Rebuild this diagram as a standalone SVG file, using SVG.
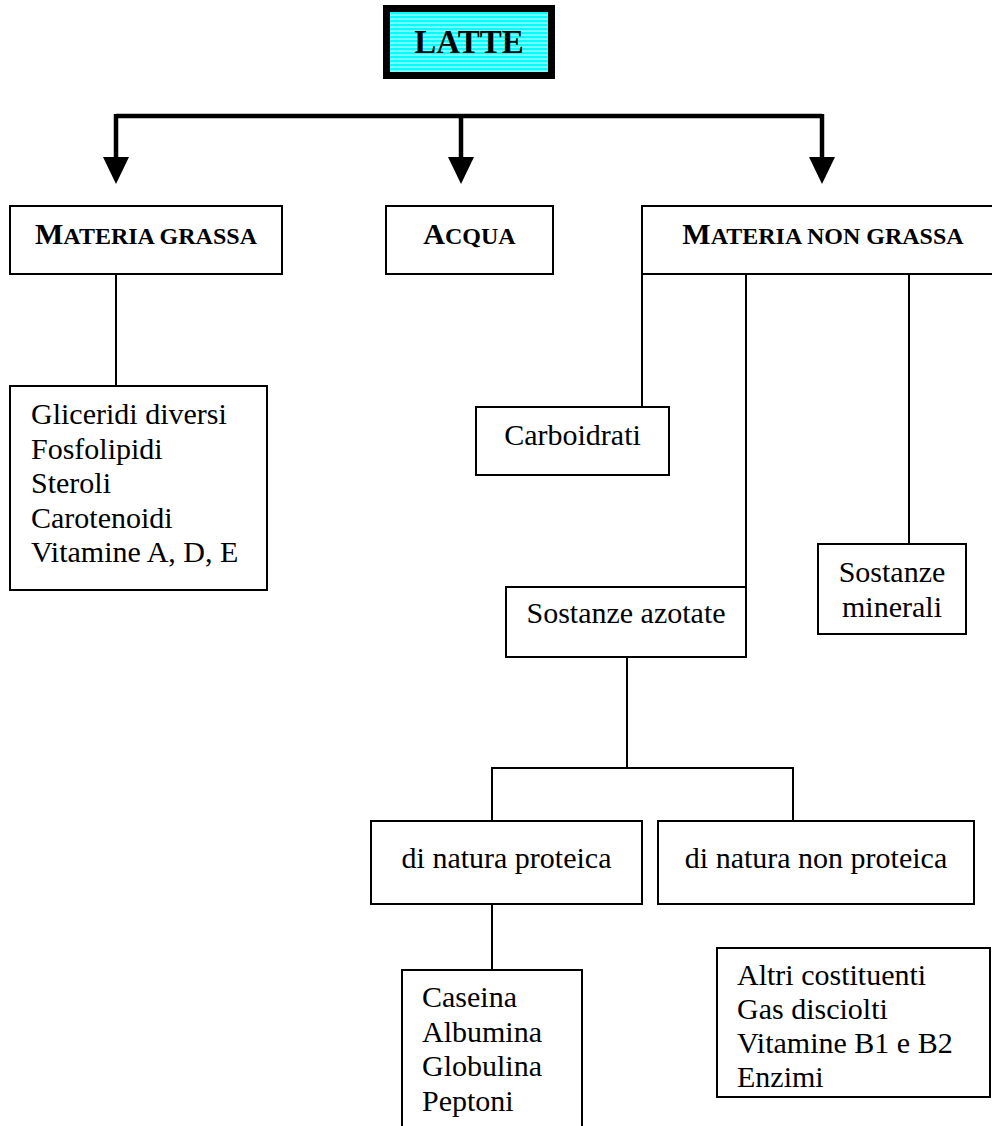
<svg xmlns="http://www.w3.org/2000/svg" width="992" height="1126" viewBox="0 0 992 1126">
  <style>
    .box { fill: #ffffff; stroke: #000000; stroke-width: 2; }
    .ln { fill: none; stroke: #000000; stroke-width: 2; }
    .thick { fill: none; stroke: #000000; stroke-width: 4.5; }
    .t { font-family: "Liberation Serif", "Times New Roman", serif; font-size: 30px; fill: #000000; }
    .h { font-family: "Liberation Serif", "Times New Roman", serif; font-weight: bold; fill: #000000; }
    .big { font-size: 30px; }
    .sc { font-size: 24px; }
    .mid { text-anchor: middle; }
  </style>
  <defs>
    <pattern id="stripes" patternUnits="userSpaceOnUse" x="0" y="12" width="10" height="4">
      <rect x="0" y="0" width="10" height="4" fill="#00ffff"/>
      <rect x="0" y="2.6" width="10" height="0.9" fill="#ffffff"/>
    </pattern>
    <marker id="head" markerUnits="userSpaceOnUse" markerWidth="28" markerHeight="27" refX="0" refY="13" orient="auto" viewBox="0 0 28 26">
      <path d="M0,0 L27,13 L0,26 z" fill="#000000"/>
    </marker>
  </defs>

  <g id="connectors">
    <path class="thick" d="M116,116 H822"/>
    <line class="thick" x1="116" y1="114" x2="116" y2="157" marker-end="url(#head)"/>
    <line class="thick" x1="461" y1="114" x2="461" y2="157" marker-end="url(#head)"/>
    <line class="thick" x1="822" y1="114" x2="822" y2="157" marker-end="url(#head)"/>
    <line class="ln" x1="116" y1="274" x2="116" y2="386"/>
    <line class="ln" x1="642" y1="274" x2="642" y2="407"/>
    <line class="ln" x1="746" y1="274" x2="746" y2="587"/>
    <line class="ln" x1="909" y1="274" x2="909" y2="544"/>
    <path class="ln" d="M627,657 V768 M492,821 V768 H793 V821"/>
    <line class="ln" x1="492" y1="904" x2="492" y2="970"/>
  </g>

  <g id="latte">
    <rect x="383" y="5" width="172" height="74" fill="#000000"/>
    <rect x="390" y="12" width="158" height="60" fill="url(#stripes)"/>
    <text class="h mid" x="469" y="53" font-size="33">LATTE</text>
  </g>

  <g id="materia-grassa">
    <rect class="box" x="10" y="206" width="272" height="68"/>
    <text class="h mid" x="146" y="244"><tspan class="big">M</tspan><tspan class="sc">ATERIA GRASSA</tspan></text>
  </g>

  <g id="acqua">
    <rect class="box" x="386" y="206" width="167" height="68"/>
    <text class="h mid" x="469.5" y="244"><tspan class="big">A</tspan><tspan class="sc">CQUA</tspan></text>
  </g>

  <g id="materia-non-grassa">
    <rect class="box" x="642" y="206" width="362" height="68"/>
    <text class="h mid" x="823" y="244"><tspan class="big">M</tspan><tspan class="sc">ATERIA NON GRASSA</tspan></text>
  </g>

  <g id="grassi">
    <rect class="box" x="10" y="386" width="257" height="204"/>
    <text class="t" x="31" y="424">Gliceridi diversi</text>
    <text class="t" x="31" y="458.5">Fosfolipidi</text>
    <text class="t" x="31" y="493">Steroli</text>
    <text class="t" x="31" y="527.5">Carotenoidi</text>
    <text class="t" x="31" y="562">Vitamine A, D, E</text>
  </g>

  <g id="carboidrati">
    <rect class="box" x="476" y="407" width="193" height="68"/>
    <text class="t mid" x="572.5" y="445">Carboidrati</text>
  </g>

  <g id="sostanze-minerali">
    <rect class="box" x="818" y="544" width="148" height="90"/>
    <text class="t mid" x="892" y="582">Sostanze</text>
    <text class="t mid" x="892" y="617">minerali</text>
  </g>

  <g id="sostanze-azotate">
    <rect class="box" x="506" y="587" width="240" height="70"/>
    <text class="t mid" x="626" y="623">Sostanze azotate</text>
  </g>

  <g id="proteica">
    <rect class="box" x="371" y="821" width="271" height="83"/>
    <text class="t mid" x="506.5" y="868">di natura proteica</text>
  </g>

  <g id="non-proteica">
    <rect class="box" x="658" y="821" width="316" height="83"/>
    <text class="t mid" x="816" y="868">di natura non proteica</text>
  </g>

  <g id="proteine">
    <rect class="box" x="402" y="970" width="180" height="170"/>
    <text class="t" x="422" y="1007">Caseina</text>
    <text class="t" x="422" y="1041.5">Albumina</text>
    <text class="t" x="422" y="1076">Globulina</text>
    <text class="t" x="422" y="1110.5">Peptoni</text>
  </g>

  <g id="altri">
    <rect class="box" x="717" y="948" width="273" height="149"/>
    <text class="t" x="737" y="985">Altri costituenti</text>
    <text class="t" x="737" y="1019">Gas disciolti</text>
    <text class="t" x="737" y="1053">Vitamine B1 e B2</text>
    <text class="t" x="737" y="1087">Enzimi</text>
  </g>
</svg>
